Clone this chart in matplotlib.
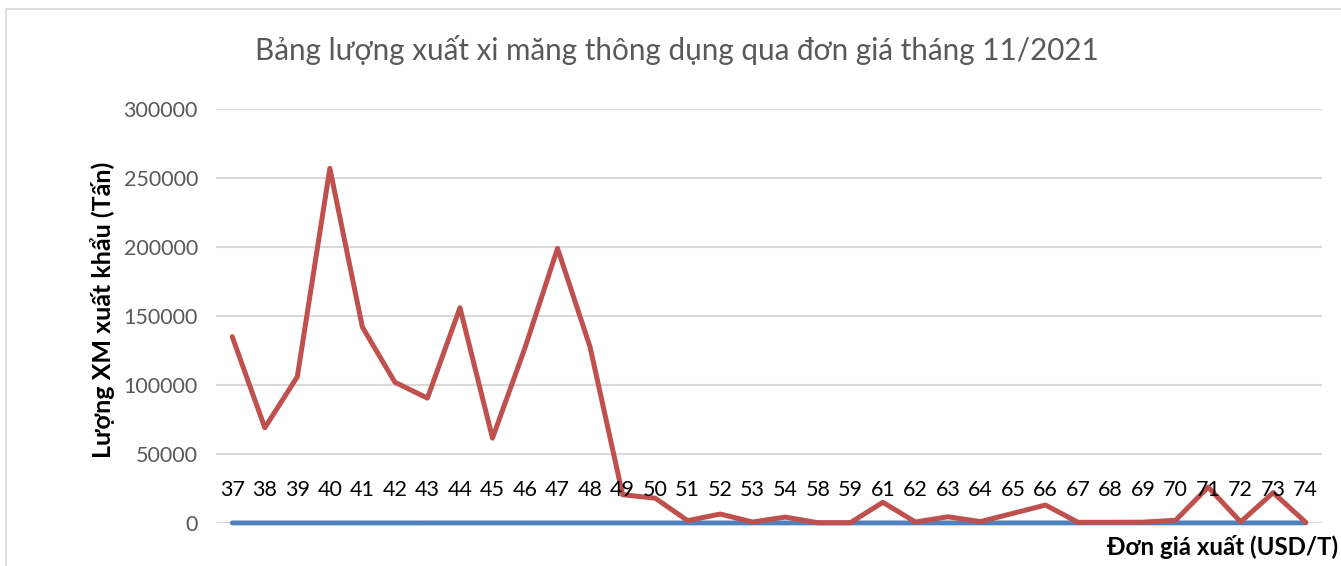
import numpy as np
import matplotlib.pyplot as plt
from matplotlib.patches import Rectangle

plt.rcParams['font.family'] = ['Lato', 'DejaVu Sans']

# don gia xuat (USD/T) - blue series, also used as category labels
don_gia = [37, 38, 39, 40, 41, 42, 43, 44, 45, 46, 47, 48, 49, 50, 51, 52, 53, 54,
           58, 59, 61, 62, 63, 64, 65, 66, 67, 68, 69, 70, 71, 72, 73, 74]
# luong xuat khau (tan) - red series
luong = [135000, 69000, 106000, 257000, 142000, 102000, 90500, 156000, 61500, 127000,
         199000, 127500, 20500, 18000, 1700, 6500, 700, 4300, 200, 200,
         15000, 700, 4500, 1000, 7000, 13000, 500, 500, 600, 2000,
         26000, 800, 22000, 500]

yticks = [0, 50000, 100000, 150000, 200000, 250000, 300000]

fig = plt.figure(figsize=(13.41, 5.66), dpi=100)
fig.patches.append(Rectangle((6/1341, -0.05), 1.1, 1 - 9/566 + 0.05, transform=fig.transFigure,
                             fill=False, edgecolor='#d9d9d9', linewidth=1.2))

ax = fig.add_axes([216/1341, 43/566, (1322-216)/1341, (523-109)/566])
x = np.arange(len(don_gia))

ax.plot(x, don_gia, color='#4F81BD', lw=3.5, solid_capstyle='round', solid_joinstyle='round',
        zorder=3, clip_on=False)
ax.plot(x, luong, color='#C0504D', lw=3.6, solid_capstyle='round', solid_joinstyle='round',
        zorder=4, clip_on=False)

for xi, v in zip(x, don_gia):
    ax.annotate(str(v), (xi, v), xytext=(0, 24), textcoords='offset points',
                ha='center', va='center', fontsize=15.5, color='black', zorder=5)

ax.set_xlim(-0.5, len(don_gia) - 0.5)
ax.set_ylim(0, 300000)
ax.set_yticks(yticks)
ax.set_yticklabels([str(t) for t in yticks])
ax.set_xticks([])
ax.tick_params(axis='y', length=0, pad=13, labelsize=15.5, labelcolor='#595959')
ax.grid(axis='y', color='#d9d9d9', lw=1.5, zorder=0)
for s in ax.spines.values():
    s.set_visible(False)

fig.text(677/1341, 1 - 50/566, 'Bảng lượng xuất xi măng thông dụng qua đơn giá tháng 11/2021',
         ha='center', va='center', fontsize=21.3, color='#595959')
fig.text(103/1341, 1 - 310/566, 'Lượng XM xuất khẩu (Tấn)', rotation=90,
         ha='center', va='center', fontsize=18, fontweight='bold', color='black')
fig.text(1338/1341, 1 - 547/566, 'Đơn giá xuất (USD/T)',
         ha='right', va='center', fontsize=17.3, fontweight='bold', color='black')

fig.savefig('out.png', dpi=100)
